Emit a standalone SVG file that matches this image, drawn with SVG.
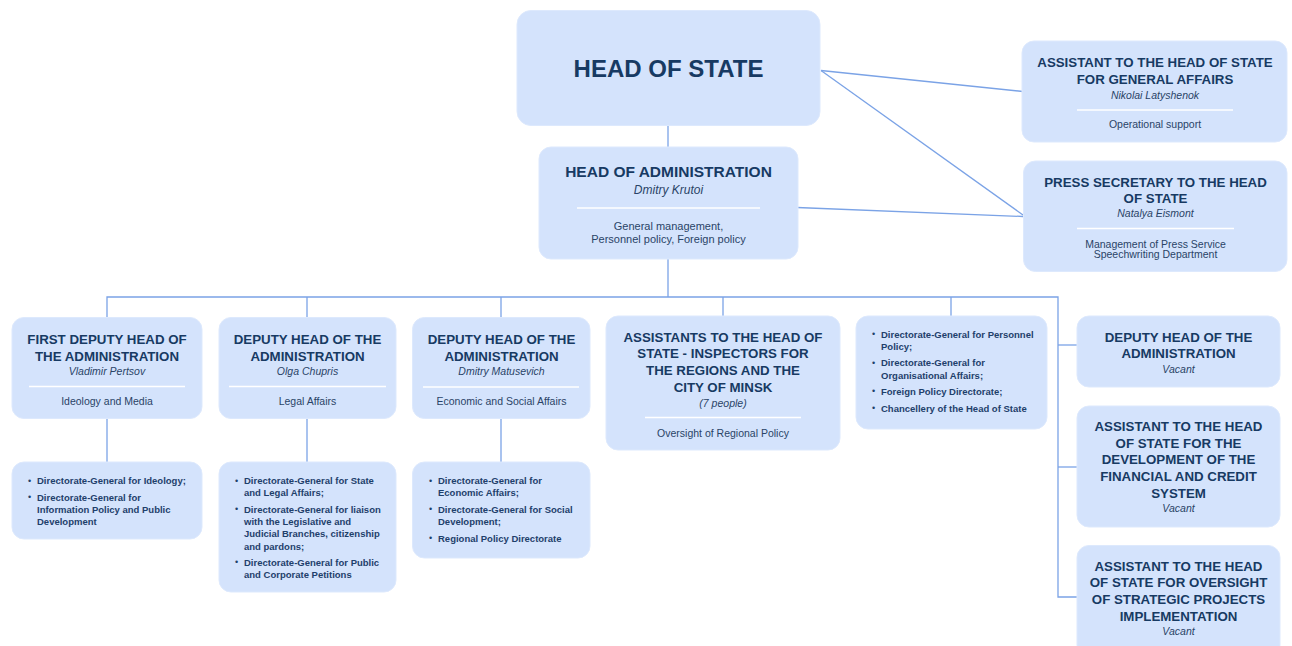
<svg xmlns="http://www.w3.org/2000/svg" width="1292" height="646" viewBox="0 0 1292 646">
<style>
.box{fill:#d4e3fc;stroke:#dde9fd;stroke-width:1}
.t{font-family:"Liberation Sans",Arial,sans-serif;font-weight:bold;font-size:13.3px;fill:#173a63;text-anchor:middle}
.n{font-family:"Liberation Sans",Arial,sans-serif;font-style:italic;font-size:10.5px;fill:#2a4467;text-anchor:middle}
.b{font-family:"Liberation Sans",Arial,sans-serif;font-size:10.5px;fill:#2a4467;text-anchor:middle}
.l{font-family:"Liberation Sans",Arial,sans-serif;font-weight:bold;font-size:9.5px;fill:#1e406b}
.dot{font-family:"Liberation Sans",Arial,sans-serif;font-size:9px;fill:#1e406b}
.div{stroke:#ffffff;stroke-width:1.3}
.c{fill:none;stroke:#7ba3e6;stroke-width:1.3}
</style>
<rect width="1292" height="646" fill="#ffffff"/>
<g id="connectors">
<path class="c" d="M668,125 V147"/>
<path class="c" d="M668,259 V297"/>
<path class="c" d="M107,317 V297 H1058 V597 H1077"/>
<path class="c" d="M307,297 V317"/>
<path class="c" d="M501,297 V317"/>
<path class="c" d="M723,297 V316"/>
<path class="c" d="M951,297 V316"/>
<path class="c" d="M1058,345 H1077"/>
<path class="c" d="M1058,467 H1077"/>
<path class="c" d="M107,418 V462"/>
<path class="c" d="M307,418 V462"/>
<path class="c" d="M501,418 V462"/>
<path class="c" d="M821,70.5 L1023,91.5"/>
<path class="c" d="M821,70.5 L1023,215"/>
<path class="c" d="M797,207.5 L1023,216.5"/>
</g>
<g id="head-of-state">
<rect class="box" x="517" y="10.5" width="303" height="115" rx="14"/>
<text class="t" x="668.5" y="77" style="font-size:24px">HEAD OF STATE</text>
</g>
<g id="head-of-administration">
<rect class="box" x="539" y="147" width="259" height="112" rx="12"/>
<text class="t" x="668.5" y="177" style="font-size:15.5px">HEAD OF ADMINISTRATION</text>
<text class="n" x="668.5" y="194" style="font-size:12px">Dmitry Krutoi</text>
<line class="div" x1="577" y1="208" x2="760" y2="208"/>
<text class="b" x="668.5" y="230" style="font-size:11px">General management,</text>
<text class="b" x="668.5" y="242.5" style="font-size:11px">Personnel policy, Foreign policy</text>
</g>
<g id="assistant-general-affairs">
<rect class="box" x="1022" y="41" width="265" height="101" rx="12"/>
<text class="t" x="1155" y="66.5">ASSISTANT TO THE HEAD OF STATE</text>
<text class="t" x="1155" y="83.5">FOR GENERAL AFFAIRS</text>
<text class="n" x="1155" y="98.5">Nikolai Latyshenok</text>
<line class="div" x1="1077" y1="110" x2="1233" y2="110"/>
<text class="b" x="1155" y="128">Operational support</text>
</g>
<g id="press-secretary">
<rect class="box" x="1023.5" y="161" width="263.5" height="110.5" rx="12"/>
<text class="t" x="1155.5" y="186.5">PRESS SECRETARY TO THE HEAD</text>
<text class="t" x="1155.5" y="202.5">OF STATE</text>
<text class="n" x="1155.5" y="217">Natalya Eismont</text>
<line class="div" x1="1077" y1="228.5" x2="1234" y2="228.5"/>
<text class="b" x="1155.5" y="247.5">Management of Press Service</text>
<text class="b" x="1155.5" y="258">Speechwriting Department</text>
</g>
<g id="first-deputy">
<rect class="box" x="12" y="317.5" width="190" height="101" rx="12"/>
<text class="t" x="107" y="343.5">FIRST DEPUTY HEAD OF</text>
<text class="t" x="107" y="360.5">THE ADMINISTRATION</text>
<text class="n" x="107" y="374.5">Vladimir Pertsov</text>
<line class="div" x1="29" y1="386.5" x2="185" y2="386.5"/>
<text class="b" x="107" y="404.5">Ideology and Media</text>
</g>
<g id="deputy-chupris">
<rect class="box" x="219" y="317.5" width="177" height="101" rx="12"/>
<text class="t" x="307.5" y="343.5">DEPUTY HEAD OF THE</text>
<text class="t" x="307.5" y="360.5">ADMINISTRATION</text>
<text class="n" x="307.5" y="374.5">Olga Chupris</text>
<line class="div" x1="229" y1="386.5" x2="386" y2="386.5"/>
<text class="b" x="307.5" y="404.5">Legal Affairs</text>
</g>
<g id="deputy-matusevich">
<rect class="box" x="412.5" y="317.5" width="177.5" height="101" rx="12"/>
<text class="t" x="501.5" y="343.5">DEPUTY HEAD OF THE</text>
<text class="t" x="501.5" y="360.5">ADMINISTRATION</text>
<text class="n" x="501.5" y="374.5">Dmitry Matusevich</text>
<line class="div" x1="423" y1="387" x2="579" y2="387"/>
<text class="b" x="501.5" y="404.5">Economic and Social Affairs</text>
</g>
<g id="inspectors">
<rect class="box" x="606" y="316" width="234" height="134" rx="12"/>
<text class="t" x="723" y="341.5">ASSISTANTS TO THE HEAD OF</text>
<text class="t" x="723" y="358">STATE - INSPECTORS FOR</text>
<text class="t" x="723" y="374.5">THE REGIONS AND THE</text>
<text class="t" x="723" y="391.5">CITY OF MINSK</text>
<text class="n" x="723" y="407">(7 people)</text>
<line class="div" x1="645" y1="417.5" x2="801" y2="417.5"/>
<text class="b" x="723" y="436.5">Oversight of Regional Policy</text>
</g>
<g id="directorates">
<rect class="box" x="856" y="316" width="191" height="113" rx="12"/>
<text class="dot" x="872" y="337">•</text>
<text class="l" x="881" y="337.5">Directorate-General for Personnel</text>
<text class="l" x="881" y="350">Policy;</text>
<text class="dot" x="872" y="366">•</text>
<text class="l" x="881" y="366">Directorate-General for</text>
<text class="l" x="881" y="378.5">Organisational Affairs;</text>
<text class="dot" x="872" y="394">•</text>
<text class="l" x="881" y="394.5">Foreign Policy Directorate;</text>
<text class="dot" x="872" y="411">•</text>
<text class="l" x="881" y="411.5">Chancellery of the Head of State</text>
</g>
<g id="deputy-vacant">
<rect class="box" x="1077" y="316" width="203" height="71" rx="12"/>
<text class="t" x="1178.5" y="341.5">DEPUTY HEAD OF THE</text>
<text class="t" x="1178.5" y="358">ADMINISTRATION</text>
<text class="n" x="1178.5" y="372.5">Vacant</text>
</g>
<g id="assistant-financial">
<rect class="box" x="1077" y="406" width="203" height="121" rx="12"/>
<text class="t" x="1178.5" y="431">ASSISTANT TO THE HEAD</text>
<text class="t" x="1178.5" y="447.5">OF STATE FOR THE</text>
<text class="t" x="1178.5" y="464">DEVELOPMENT OF THE</text>
<text class="t" x="1178.5" y="481">FINANCIAL AND CREDIT</text>
<text class="t" x="1178.5" y="497.5">SYSTEM</text>
<text class="n" x="1178.5" y="512">Vacant</text>
</g>
<g id="assistant-strategic">
<rect class="box" x="1077" y="545.5" width="203" height="112" rx="12"/>
<text class="t" x="1178.5" y="570.5">ASSISTANT TO THE HEAD</text>
<text class="t" x="1178.5" y="587">OF STATE FOR OVERSIGHT</text>
<text class="t" x="1178.5" y="604">OF STRATEGIC PROJECTS</text>
<text class="t" x="1178.5" y="620.5">IMPLEMENTATION</text>
<text class="n" x="1178.5" y="634.5">Vacant</text>
</g>
<g id="ideology-directorates">
<rect class="box" x="12" y="462" width="190" height="77" rx="12"/>
<text class="dot" x="28" y="484">•</text>
<text class="l" x="37" y="484">Directorate-General for Ideology;</text>
<text class="dot" x="28" y="500">•</text>
<text class="l" x="37" y="500.5">Directorate-General for</text>
<text class="l" x="37" y="512.5">Information Policy and Public</text>
<text class="l" x="37" y="524.5">Development</text>
</g>
<g id="legal-directorates">
<rect class="box" x="219" y="462" width="177" height="130" rx="12"/>
<text class="dot" x="235" y="483.5">•</text>
<text class="l" x="244" y="483.5">Directorate-General for State</text>
<text class="l" x="244" y="496">and Legal Affairs;</text>
<text class="dot" x="235" y="512">•</text>
<text class="l" x="244" y="512.5">Directorate-General for liaison</text>
<text class="l" x="244" y="525">with the Legislative and</text>
<text class="l" x="244" y="537">Judicial Branches, citizenship</text>
<text class="l" x="244" y="549.5">and pardons;</text>
<text class="dot" x="235" y="565">•</text>
<text class="l" x="244" y="565.5">Directorate-General for Public</text>
<text class="l" x="244" y="578">and Corporate Petitions</text>
</g>
<g id="economic-directorates">
<rect class="box" x="412.5" y="462" width="177.5" height="96" rx="12"/>
<text class="dot" x="429" y="483.5">•</text>
<text class="l" x="438" y="483.5">Directorate-General for</text>
<text class="l" x="438" y="496">Economic Affairs;</text>
<text class="dot" x="429" y="512">•</text>
<text class="l" x="438" y="512.5">Directorate-General for Social</text>
<text class="l" x="438" y="524.5">Development;</text>
<text class="dot" x="429" y="541">•</text>
<text class="l" x="438" y="541.5">Regional Policy Directorate</text>
</g>
</svg>
